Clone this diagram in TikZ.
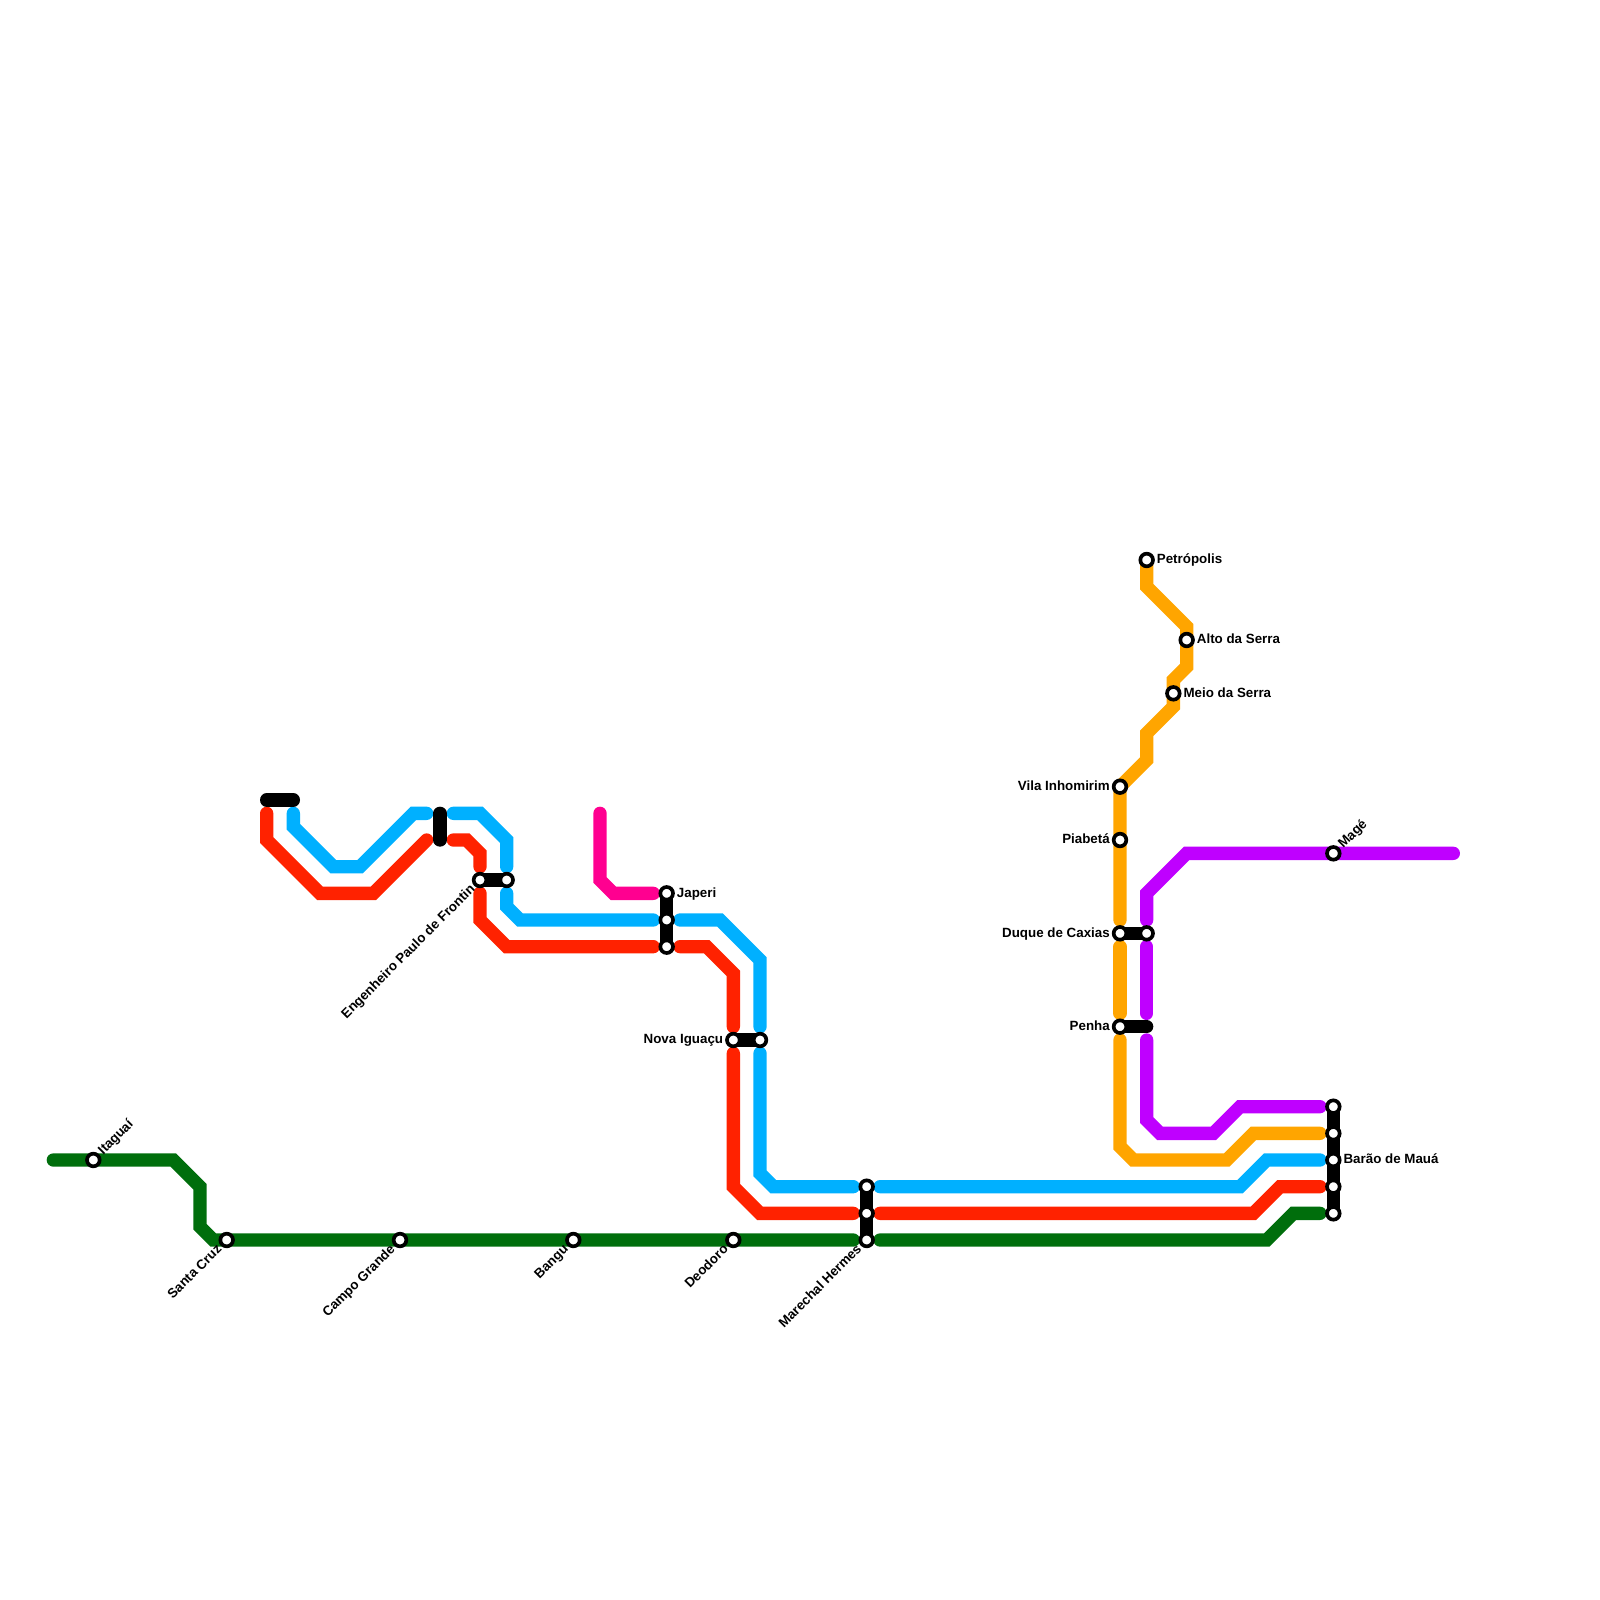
\documentclass[tikz,border=0pt]{standalone}
\usepackage{fontspec}
\setmainfont{Liberation Sans}
\usetikzlibrary{backgrounds}
\definecolor{linegreen}{HTML}{006E0C}
\definecolor{linered}{HTML}{FF2200}
\definecolor{lineblue}{HTML}{00B0FF}
\definecolor{lineorange}{HTML}{FFA500}
\definecolor{linepurple}{HTML}{BF00FF}
\definecolor{linepink}{HTML}{FF0090}
\tikzset{
  track/.style={line width=.4cm,line cap=round,line join=miter},
  link/.style={track,black},
  station/.style={circle,draw=black,fill=white,line width=.11cm,minimum size=.38cm,inner sep=0pt},
  caption/.style={font=\fontsize{11.4}{13}\selectfont\bfseries,inner sep=0pt,text height=6.8pt,text depth=0pt},
  captionE/.style={caption,anchor=west,xshift=.3cm},
  captionW/.style={caption,anchor=east,xshift=-.3cm},
  captionNE/.style={caption,anchor=west,rotate=45,xshift=.3cm},
  captionSW/.style={caption,anchor=east,rotate=45,xshift=-.3cm},
}
\begin{document}
\begin{tikzpicture}[x=.4cm,y=-.4cm]
    \useasboundingbox (0,0) rectangle (120,120);

    \node[station] (itaguai) at (7,87) {};
    \node[station] (santacruz) at (17,93) {};
    \node[station] (campogrande) at (30,93) {};
    \node[station] (bangu) at (43,93) {};
    \node[station] (deodoro) at (55,93) {};
    \node[station] (hermesA) at (65,89) {};
    \node[station] (hermesB) at (65,91) {};
    \node[station] (hermesC) at (65,93) {};
    \node[station] (frontinA) at (36,66) {};
    \node[station] (frontinB) at (38,66) {};
    \node[station] (japeriA) at (50,67) {};
    \node[station] (japeriB) at (50,69) {};
    \node[station] (japeriC) at (50,71) {};
    \node[station] (iguacuA) at (55,78) {};
    \node[station] (iguacuB) at (57,78) {};
    \node[station] (petropolis) at (86,42) {};
    \node[station] (altoserra) at (89,48) {};
    \node[station] (meioserra) at (88,52) {};
    \node[station] (vila) at (84,59) {};
    \node[station] (piabeta) at (84,63) {};
    \node[station] (caxiasA) at (84,70) {};
    \node[station] (caxiasB) at (86,70) {};
    \node[station] (penha) at (84,77) {};
    \node[station] (mage) at (100,64) {};
    \node[station] (baraoA) at (100,83) {};
    \node[station] (baraoB) at (100,85) {};
    \node[station] (baraoC) at (100,87) {};
    \node[station] (baraoD) at (100,89) {};
    \node[station] (baraoE) at (100,91) {};

    \coordinate (penhaend) at (86,77);
    \coordinate (topA) at (20,60);
    \coordinate (topB) at (22,60);
    \coordinate (gapA) at (33,61);
    \coordinate (gapB) at (33,63);

    \begin{scope}[on background layer]
      \draw[track,linegreen] (4,87) -- (13,87) -- (15,89) -- (15,92) -- (16,93) -- (64,93);
      \draw[track,linegreen] (66,93) -- (95,93) -- (97,91) -- (99,91);

      \draw[track,linered] (20,61) -- (20,63) -- (24,67) -- (28,67) -- (32,63);
      \draw[track,linered] (34,63) -- (35,63) -- (36,64) -- (36,65);
      \draw[track,linered] (36,67) -- (36,69) -- (38,71) -- (49,71);
      \draw[track,linered] (51,71) -- (53,71) -- (55,73) -- (55,77);
      \draw[track,linered] (55,79) -- (55,89) -- (57,91) -- (64,91);
      \draw[track,linered] (66,91) -- (94,91) -- (96,89) -- (99,89);

      \draw[track,lineblue] (22,61) -- (22,62) -- (25,65) -- (27,65) -- (31,61) -- (32,61);
      \draw[track,lineblue] (34,61) -- (36,61) -- (38,63) -- (38,65);
      \draw[track,lineblue] (38,67) -- (38,68) -- (39,69) -- (49,69);
      \draw[track,lineblue] (51,69) -- (54,69) -- (57,72) -- (57,77);
      \draw[track,lineblue] (57,79) -- (57,88) -- (58,89) -- (64,89);
      \draw[track,lineblue] (66,89) -- (93,89) -- (95,87) -- (99,87);

      \draw[track,linepink] (45,61) -- (45,66) -- (46,67) -- (49,67);

      \draw[track,lineorange] (petropolis.center) -- (86,44) -- (89,47) -- (89,50) -- (88,51) -- (88,53) -- (86,55) -- (86,57) -- (vila.center) -- (84,69);
      \draw[track,lineorange] (84,71) -- (84,76);
      \draw[track,lineorange] (84,78) -- (84,86) -- (85,87) -- (92,87) -- (94,85) -- (99,85);

      \draw[track,linepurple] (109,64) -- (89,64) -- (86,67) -- (86,69);
      \draw[track,linepurple] (86,71) -- (86,76);
      \draw[track,linepurple] (86,78) -- (86,84) -- (87,85) -- (91,85) -- (93,83) -- (99,83);

      \draw[link] (topA) -- (topB);
      \draw[link] (gapA) -- (gapB);
      \draw[link] (frontinA.center) -- (frontinB.center);
      \draw[link] (japeriA.center) -- (japeriC.center);
      \draw[link] (iguacuA.center) -- (iguacuB.center);
      \draw[link] (hermesA.center) -- (hermesC.center);
      \draw[link] (caxiasA.center) -- (caxiasB.center);
      \draw[link] (penha.center) -- (penhaend);
      \draw[link] (baraoA.center) -- (baraoE.center);
    \end{scope}

    \node[captionNE] (itaguaitext) at (itaguai) {Itaguaí};
    \node[captionSW] (santacruztext) at (santacruz) {Santa Cruz};
    \node[captionSW] (campograndetext) at (campogrande) {Campo Grande};
    \node[captionSW] (bangutext) at (bangu) {Bangu};
    \node[captionSW] (deodorotext) at (deodoro) {Deodoro};
    \node[captionSW] (hermestext) at (hermesC) {Marechal Hermes};
    \node[captionSW] (frontintext) at (frontinA) {Engenheiro Paulo de Frontin};
    \node[captionE] (japeritext) at (japeriA) {Japeri};
    \node[captionW] (iguacutext) at (iguacuA) {Nova Iguaçu};
    \node[captionE] (petropolistext) at (petropolis) {Petrópolis};
    \node[captionE] (altoserratext) at (altoserra) {Alto da Serra};
    \node[captionE] (meioserratext) at (meioserra) {Meio da Serra};
    \node[captionW] (vilatext) at (vila) {Vila Inhomirim};
    \node[captionW] (piabetatext) at (piabeta) {Piabetá};
    \node[captionW] (caxiastext) at (caxiasA) {Duque de Caxias};
    \node[captionW] (penhatext) at (penha) {Penha};
    \node[captionNE] (magetext) at (mage) {Magé};
    \node[captionE] (baraotext) at (baraoC) {Barão de Mauá};
\end{tikzpicture}
\end{document}
